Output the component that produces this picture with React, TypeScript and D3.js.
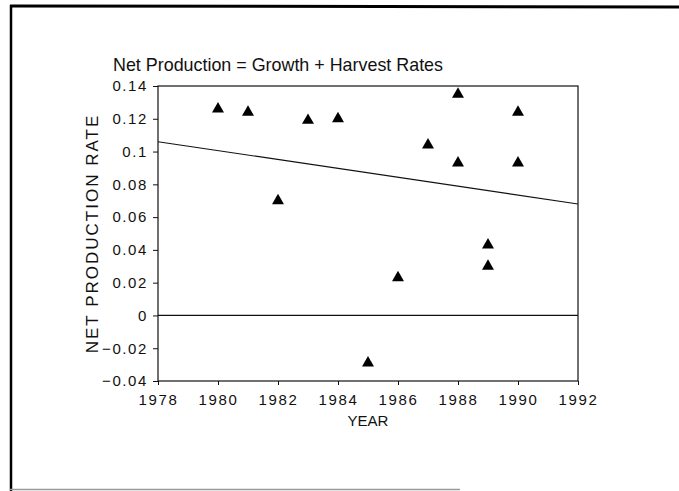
import React, { useEffect, useRef } from 'react';
import * as d3 from 'd3';

// observed points (year, net production rate)
const years = [1980, 1981, 1982, 1983, 1984, 1985, 1986, 1987, 1988, 1988, 1989, 1989, 1990, 1990];
const rates = [0.126, 0.124, 0.070, 0.119, 0.120, -0.029, 0.023, 0.104, 0.135, 0.093, 0.043, 0.030, 0.124, 0.093];

// fitted trend line end points
const trendYears = [1978, 1992];
const trendRates = [0.106, 0.068];

const xTicks = [1978, 1980, 1982, 1984, 1986, 1988, 1990, 1992];
const yTicks = [-0.04, -0.02, 0, 0.02, 0.04, 0.06, 0.08, 0.1, 0.12, 0.14];

const App: React.FC = () => {
  const svgRef = useRef<SVGSVGElement>(null);
  const width = 679;
  const height = 491;

  useEffect(() => {
    if (!svgRef.current) return;
    const svg = d3.select(svgRef.current);
    svg.selectAll('*').remove();

    const font = '"Liberation Sans", Arial, sans-serif';
    const margin = { top: 86, left: 158, right: 101, bottom: 110 };
    const innerW = width - margin.left - margin.right;
    const innerH = height - margin.top - margin.bottom;

    // page frame
    svg.append('line').attr('x1', 10).attr('y1', 6).attr('x2', width).attr('y2', 7)
      .attr('stroke', '#000').attr('stroke-width', 3);
    svg.append('line').attr('x1', 11).attr('y1', 5).attr('x2', 11).attr('y2', 491)
      .attr('stroke', '#000').attr('stroke-width', 2.5);
    svg.append('line').attr('x1', 10).attr('y1', 489.5).attr('x2', 460).attr('y2', 489.5)
      .attr('stroke', '#999').attr('stroke-width', 1.5);

    const g = svg.append('g').attr('transform', `translate(${margin.left},${margin.top})`);

    const x = d3.scaleLinear().domain([1978, 1992]).range([0, innerW]);
    const y = d3.scaleLinear().domain([-0.04, 0.14]).range([innerH, 0]);

    // plot box
    g.append('rect').attr('width', innerW).attr('height', innerH)
      .attr('fill', 'none').attr('stroke', '#111').attr('stroke-width', 1.2);

    // zero line
    g.append('line').attr('x1', 0).attr('x2', innerW).attr('y1', y(0)).attr('y2', y(0))
      .attr('stroke', '#111').attr('stroke-width', 1.2);

    // trend line
    const line = d3.line<number>().x((d, i) => x(trendYears[i])).y(d => y(d));
    g.append('path').datum(trendRates).attr('d', line)
      .attr('fill', 'none').attr('stroke', '#111').attr('stroke-width', 1.2);

    // axes
    const xAxis = g.append('g').attr('transform', `translate(0,${innerH})`)
      .call(d3.axisBottom(x).tickValues(xTicks).tickFormat(d3.format('d')).tickSize(4).tickPadding(9));
    xAxis.select('.domain').remove();
    xAxis.selectAll('line').attr('stroke', '#111');
    xAxis.selectAll('text').attr('font-family', font).attr('font-size', 15)
      .attr('letter-spacing', 1.6).attr('fill', '#111');

    const yAxis = g.append('g')
      .call(d3.axisLeft(y).tickValues(yTicks).tickFormat(d => String(+(+d).toFixed(2)).replace('-', '\u2212')).tickSize(5).tickPadding(5));
    yAxis.select('.domain').remove();
    yAxis.selectAll('line').attr('stroke', '#111');
    yAxis.selectAll('text').attr('font-family', font).attr('font-size', 15)
      .attr('letter-spacing', 1.6).attr('fill', '#111');

    // points
    const tri = d3.symbol().type(d3.symbolTriangle).size(62);
    g.selectAll('.pt').data(years).enter().append('path')
      .attr('class', 'pt')
      .attr('d', tri)
      .attr('transform', (d, i) => `translate(${x(d)},${y(rates[i])})`)
      .attr('fill', '#000');

    // labels
    svg.append('text').attr('x', 278).attr('y', 71).attr('text-anchor', 'middle')
      .attr('font-family', font).attr('font-size', 19).attr('fill', '#111')
      .attr('textLength', 330).attr('lengthAdjust', 'spacingAndGlyphs')
      .text('Net Production = Growth + Harvest Rates');

    svg.append('text').attr('x', margin.left + innerW / 2).attr('y', 426).attr('text-anchor', 'middle')
      .attr('font-family', font).attr('font-size', 15).attr('fill', '#111')
      .text('YEAR');

    svg.append('text')
      .attr('transform', `translate(98,${margin.top + innerH / 2}) rotate(-90)`)
      .attr('text-anchor', 'middle')
      .attr('font-family', font).attr('font-size', 17).attr('letter-spacing', 2).attr('fill', '#111')
      .text('NET PRODUCTION RATE');
  }, []);

  return (
    <svg ref={svgRef} width={width} height={height}
      style={{ position: 'absolute', left: 0, top: 0, background: '#fff' }} />
  );
};

export default App;
